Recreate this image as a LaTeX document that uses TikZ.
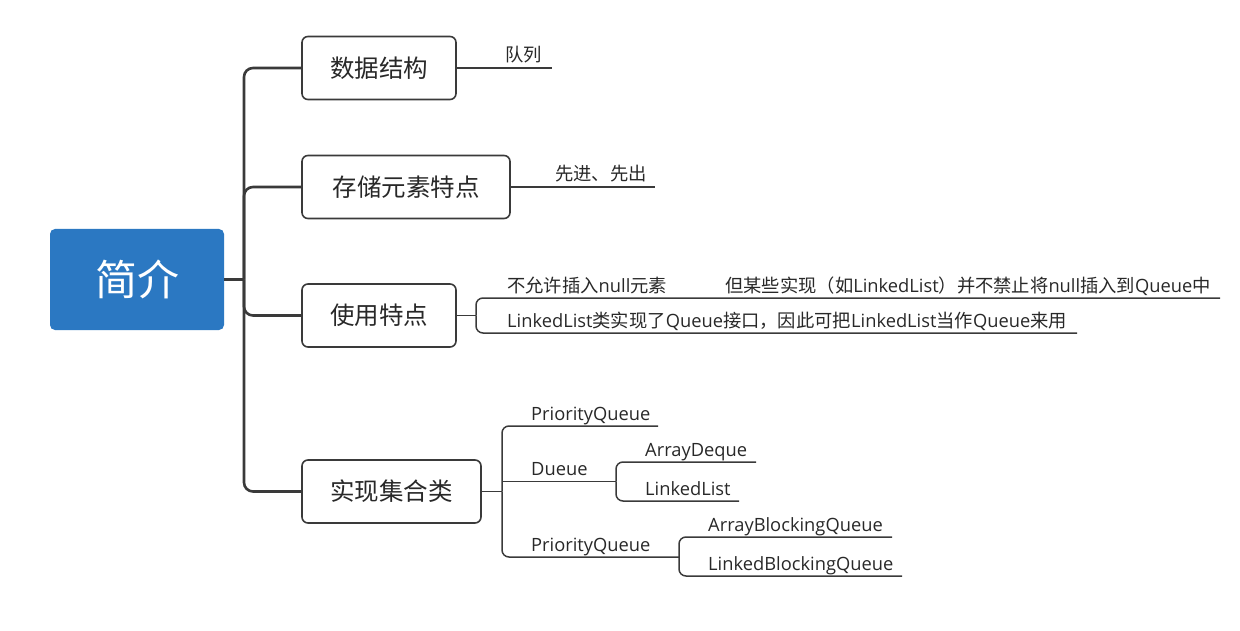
\documentclass[tikz,border=0pt]{standalone}
\usepackage{fontspec}
\setmainfont{Open Sans}
\newfontfamily\cjk{Noto Sans CJK SC}
\definecolor{mainblue}{RGB}{43,120,194}
\definecolor{ink}{RGB}{40,40,40}
\definecolor{edge}{RGB}{58,58,58}
\begin{document}
\begin{tikzpicture}[x=1pt,y=-1pt,
  topic/.style={draw=edge, line width=1.6pt, rounded corners=6pt, fill=white,
    minimum height=63pt, inner sep=0pt, text=ink,
    font=\cjk\fontsize{24.5}{28}\selectfont},
  rootbox/.style={fill=mainblue, rounded corners=5pt, minimum width=174pt,
    minimum height=101pt, inner sep=0pt, text=white,
    font=\cjk\fontsize{42}{48}\selectfont},
  trunk/.style={draw=edge, line width=2.6pt, rounded corners=9pt},
  leaf/.style={draw=edge, line width=1.5pt, rounded corners=7pt},
  leaftext/.style={anchor=base west, inner sep=0pt, text=ink,
    font=\fontsize{18.3}{22}\selectfont}
]
\useasboundingbox (0,0) rectangle (1240,631);

% root and main topics
\node[rootbox] (root) at (137,279.5) {简介};
\node[topic, minimum width=154pt] (t1) at (379,68) {数据结构};
\node[topic, minimum width=208pt] (t2) at (406,187) {存储元素特点};
\node[topic, minimum width=154pt] (t3) at (379,315.5) {使用特点};
\node[topic, minimum width=179pt] (t4) at (391.5,491.5) {实现集合类};

% trunk
\coordinate (j) at (244,279.5);
\draw[trunk, rounded corners=0pt] (root.east) -- (j);
\draw[trunk] (j) |- (t1.west);
\draw[trunk] (j) |- (t2.west);
\draw[trunk] (j) |- (t3.west);
\draw[trunk] (j) |- (t4.west);

% 数据结构
\coordinate (e1) at (552,68);
\draw[leaf] (t1.east) -- (e1);
\node[leaftext] (n1) at (505,62) {\cjk 队列};

% 存储元素特点
\coordinate (e2) at (655,187);
\draw[leaf] (t2.east) -- (e2);
\node[leaftext] (n2) at (555,181) {\cjk 先进、先出};

% 使用特点
\coordinate (b3) at (476,315.5);
\coordinate (e3a) at (1220,298);
\coordinate (e3b) at (1077,333);
\draw[leaf, rounded corners=0pt] (t3.east) -- (b3);
\draw[leaf] (b3) |- (e3a);
\draw[leaf] (b3) |- (e3b);
\node[leaftext] (n3a) at (507,292) {{\cjk 不允许插入}null{\cjk 元素}};
\node[leaftext] (n3b) at (725,292) {{\cjk 但某些实现（如}LinkedList{\cjk ）并不禁止将}null{\cjk 插入到}Queue{\cjk 中}};
\node[leaftext] (n3c) at (507,327) {LinkedList{\cjk 类实现了}Queue{\cjk 接口，因此可把}LinkedList{\cjk 当作}Queue{\cjk 来用}};

% 实现集合类
\coordinate (b4) at (502,491.5);
\coordinate (b4d) at (502,481.5);
\coordinate (e4a) at (658,426);
\coordinate (b5) at (616,481.5);
\coordinate (b6) at (679,557);
\coordinate (e5a) at (756,462);
\coordinate (e5b) at (739,501);
\coordinate (e6a) at (892,537);
\coordinate (e6b) at (902,576);
\draw[leaf, rounded corners=0pt] (t4.east) -- (b4);
\draw[leaf] (b4) |- (e4a);
\draw[leaf] (b4) |- (b6);
\draw[leaf, rounded corners=0pt] (b4d) -- (b5);
\draw[leaf] (b5) |- (e5a);
\draw[leaf] (b5) |- (e5b);
\draw[leaf] (b6) |- (e6a);
\draw[leaf] (b6) |- (e6b);
\node[leaftext] (n4a) at (531,420) {PriorityQueue};
\node[leaftext] (n4b) at (531,475.5) {Dueue};
\node[leaftext] (n5a) at (645,456) {ArrayDeque};
\node[leaftext] (n5b) at (645,495) {LinkedList};
\node[leaftext] (n4c) at (531,551) {PriorityQueue};
\node[leaftext] (n6a) at (708,531) {ArrayBlockingQueue};
\node[leaftext] (n6b) at (708,570) {LinkedBlockingQueue};
\end{tikzpicture}
\end{document}
